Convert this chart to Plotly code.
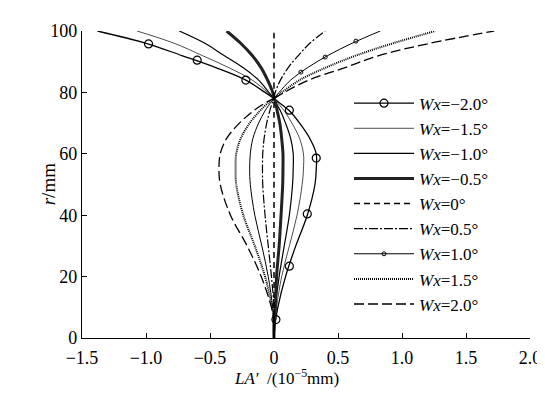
import plotly.graph_objects as go

# Radius grid (mm): lower lobe and upper fan
r_low = [0, 5, 10, 20, 30, 40, 50, 55, 60, 65, 70, 74, 77, 78]
r_up = [78, 80, 84, 88, 92, 96, 100]

# LA' (1e-5 mm), one list per Wx
wx_labels = ['−2.0°', '−1.5°', '−1.0°', '−0.5°', '0°', '0.5°', '1.0°', '1.5°', '2.0°']

la_low = {
    '−2.0°': [0, 0.01, 0.03, 0.09, 0.17, 0.26, 0.32, 0.33, 0.33, 0.28, 0.20, 0.12, 0.03, 0],
    '−1.5°': [0, 0.01, 0.02, 0.06, 0.12, 0.18, 0.22, 0.23, 0.23, 0.20, 0.14, 0.08, 0.02, 0],
    '−1.0°': [0, 0, 0.01, 0.04, 0.08, 0.12, 0.145, 0.15, 0.15, 0.13, 0.09, 0.05, 0.01, 0],
    '−0.5°': [0, 0, 0.01, 0.02, 0.04, 0.055, 0.068, 0.07, 0.07, 0.06, 0.045, 0.025, 0.01, 0],
    '0°': [0, 0, 0, 0, 0, 0, 0, 0, 0, 0, 0, 0, 0, 0],
    '0.5°': [0, 0, 0, -0.02, -0.045, -0.07, -0.088, -0.09, -0.088, -0.077, -0.057, -0.033, -0.01, 0],
    '1.0°': [0, 0, -0.01, -0.045, -0.095, -0.15, -0.185, -0.19, -0.185, -0.165, -0.12, -0.07, -0.02, 0],
    '1.5°': [0, 0, -0.015, -0.07, -0.15, -0.24, -0.295, -0.30, -0.295, -0.26, -0.19, -0.11, -0.035, 0],
    '2.0°': [0, 0, -0.02, -0.10, -0.21, -0.34, -0.42, -0.43, -0.42, -0.37, -0.27, -0.16, -0.05, 0],
}
la_up = {
    '−2.0°': [0, -0.07, -0.22, -0.45, -0.72, -1.00, -1.38],
    '−1.5°': [0, -0.05, -0.17, -0.35, -0.56, -0.78, -1.07],
    '−1.0°': [0, -0.04, -0.12, -0.24, -0.39, -0.54, -0.74],
    '−0.5°': [0, -0.01, -0.05, -0.10, -0.17, -0.26, -0.37],
    '0°': [0, 0, 0, 0, 0, 0, 0],
    '0.5°': [0, 0.01, 0.05, 0.11, 0.19, 0.28, 0.40],
    '1.0°': [0, 0.04, 0.13, 0.26, 0.42, 0.61, 0.83],
    '1.5°': [0, 0.06, 0.20, 0.40, 0.64, 0.93, 1.26],
    '2.0°': [0, 0.08, 0.27, 0.55, 0.82, 1.22, 1.72],
}

# marker positions drawn on the curves
m20_x = [-0.22, -0.60, -0.98, 0.12, 0.33, 0.26, 0.12, 0.015]
m20_r = [84, 90.5, 95.8, 74.2, 58.6, 40.4, 23.4, 6]
m10_x = [0.21, 0.40, 0.64]
m10_r = [86.6, 91.5, 96.7]

xticks = [-1.5, -1.0, -0.5, 0, 0.5, 1.0, 1.5, 2.0]
xticktext = ['−1.5', '−1.0', '−0.5', '0', '0.5', '1.0', '1.5', '2.0']
yticks = [0, 20, 40, 60, 80, 100]

styles = {
    '−2.0°': dict(color='black', width=1.3),
    '−1.5°': dict(color='black', width=0.7),
    '−1.0°': dict(color='black', width=1.2),
    '−0.5°': dict(color='#222', width=3),
    '0°': dict(color='black', width=1.5, dash='6px,4px'),
    '0.5°': dict(color='black', width=1.2, dash='9px,2px,2px,2px'),
    '1.0°': dict(color='black', width=1),
    '1.5°': dict(color='black', width=2, dash='1px,1px'),
    '2.0°': dict(color='black', width=1.3, dash='10px,4px'),
}

FONT = 'Liberation Serif, Times New Roman, serif'
fig = go.Figure()

for lab in wx_labels:
    for xs, rs in ((la_low[lab], r_low), (la_up[lab], r_up)):
        fig.add_trace(go.Scatter(x=xs, y=rs, mode='lines', line=styles[lab],
                                 line_shape='spline', showlegend=False, hoverinfo='skip'))

fig.add_trace(go.Scatter(x=m20_x, y=m20_r, mode='markers', showlegend=False,
                         marker=dict(symbol='circle-open', size=8, color='black', line=dict(width=1.2))))
fig.add_trace(go.Scatter(x=m10_x, y=m10_r, mode='markers', showlegend=False,
                         marker=dict(symbol='circle-open', size=4, color='black', line=dict(width=1))))

# legend entries
for lab in wx_labels:
    mode = 'lines'
    marker = None
    if lab == '−2.0°':
        mode = 'lines+markers'
        marker = dict(symbol='circle-open', size=8, color='black', line=dict(width=1.2))
    elif lab == '1.0°':
        mode = 'lines+markers'
        marker = dict(symbol='circle-open', size=4, color='black', line=dict(width=1))
    fig.add_trace(go.Scatter(x=[None], y=[None], mode=mode, line=styles[lab], marker=marker,
                             name=f'<i>Wx</i>={lab}'))

axis_common = dict(showline=True, linecolor='black', linewidth=1.2, ticks='inside',
                   ticklen=5, tickcolor='black', showgrid=False, zeroline=False,
                   tickfont=dict(family=FONT, size=18, color='black'))

fig.update_layout(
    width=545, height=396,
    margin=dict(l=74, r=20, t=23, b=66),
    plot_bgcolor='white', paper_bgcolor='white',
    font=dict(family=FONT, size=18, color='black'),
    xaxis=dict(range=[-1.5, 2.0], tickvals=xticks, ticktext=xticktext,
               ticklabelstandoff=3, **axis_common),
    yaxis=dict(range=[0, 100], tickvals=yticks, **axis_common),
    legend=dict(x=0.596, y=0.822, xanchor='left', yanchor='top', bgcolor='rgba(0,0,0,0)',
                font=dict(family=FONT, size=17), tracegroupgap=0, itemwidth=60),
    annotations=[
        dict(text='<i>r</i>/mm', xref='paper', yref='paper', x=-0.102, y=0.5,
             textangle=-90, showarrow=False, font=dict(size=19)),
        dict(text="<i>LA′</i>  /(10<sup>−5</sup>mm)", xref='paper', yref='paper',
             x=0.457, y=-0.17, showarrow=False, font=dict(size=17)),
    ],
)

fig.write_html('out.html')
